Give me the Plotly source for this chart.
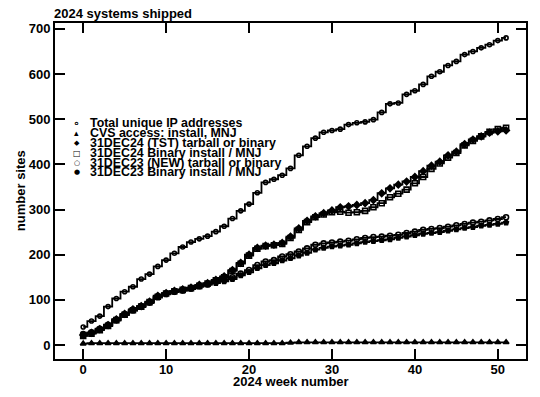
import plotly.graph_objects as go

weeks = list(range(52))

total_ip = [40, 53, 64, 85, 103, 118, 129, 146, 157, 174,
            188, 203, 217, 228, 235, 241, 251, 263, 280, 297,
            312, 337, 360, 367, 376, 391, 420, 440, 458, 471,
            475, 478, 488, 492, 494, 499, 515, 534, 536, 555,
            563, 577, 595, 605, 619, 628, 643, 650, 658, 665,
            674, 680]

cvs_access = [3, 4, 4, 4, 4, 4, 4, 4, 4, 4,
              4, 4, 4, 4, 4, 4, 4, 4, 4, 4,
              4, 4, 4, 4, 4, 5, 6, 6, 6, 6,
              6, 6, 6, 6, 6, 6, 6, 6, 6, 6,
              6, 6, 6, 6, 6, 6, 6, 6, 6, 6,
              6, 6]

tst24 = [22, 27, 35, 44, 57, 69, 79, 86, 96, 109,
         115, 120, 123, 127, 133, 137, 144, 152, 166, 182,
         200, 215, 220, 222, 226, 240, 258, 275, 285, 292,
         298, 305, 307, 310, 314, 321, 336, 347, 355, 362,
         372, 385, 397, 406, 420, 428, 445, 455, 462, 470,
         473, 475]

bin24 = [20, 25, 33, 42, 55, 67, 77, 85, 95, 107,
         114, 119, 122, 126, 131, 136, 143, 150, 164, 180,
         198, 213, 219, 221, 224, 237, 255, 272, 283, 289,
         294, 295, 293, 294, 297, 305, 314, 327, 335, 344,
         358, 372, 390, 402, 415, 425, 442, 452, 462, 472,
         478, 481]

new23 = [24, 28, 36, 45, 56, 68, 78, 86, 95, 107,
         114, 119, 122, 126, 131, 135, 140, 144, 150, 158,
         166, 177, 185, 188, 196, 201, 207, 214, 222, 225,
         227, 229, 231, 234, 237, 239, 240, 242, 244, 248,
         251, 255, 257, 259, 262, 265, 268, 271, 273, 276,
         279, 283]

bin23 = [21, 26, 34, 43, 54, 66, 76, 84, 93, 105,
         112, 117, 120, 124, 129, 133, 137, 141, 146, 154,
         161, 170, 177, 181, 187, 192, 198, 204, 211, 215,
         218, 220, 222, 225, 228, 230, 232, 234, 237, 240,
         243, 246, 248, 250, 253, 256, 259, 261, 264, 266,
         268, 271]

x_ticks = [0, 10, 20, 30, 40, 50]
y_ticks = [0, 100, 200, 300, 400, 500, 600, 700]

names = ["Total unique IP addresses",
         "CVS access: install, MNJ",
         "31DEC24 (TST) tarball or binary",
         "31DEC24 Binary install / MNJ",
         "31DEC23 (NEW) tarball or binary",
         "31DEC23 Binary install / MNJ"]
series = [total_ip, cvs_access, tst24, bin24, new23, bin23]
symbols = ["circle-open", "triangle-up", "diamond", "square-open", "circle-open", "pentagon"]
glyphs = ["∘", "▴", "◆", "□", "○", "●"]
gsizes = [11, 9, 7, 8, 7, 7]
msizes = [4, 5, 5, 5, 5, 5]

FONT = "Liberation Sans"
fig = go.Figure()
for nm, ys, sym, ms in zip(names, series, symbols, msizes):
    fig.add_trace(go.Scatter(
        x=weeks, y=ys, name=nm, mode="lines+markers",
        line=dict(color="black", width=1.8, shape="hvh"),
        marker=dict(symbol=sym, size=ms, color="black",
                    line=dict(color="black", width=1.6)),
        showlegend=False))

ax_common = dict(showline=True, linewidth=2, linecolor="black", mirror="ticks",
                 ticks="inside", ticklen=10, tickwidth=2, tickcolor="black",
                 showgrid=False, zeroline=False,
                 tickfont=dict(family=FONT, size=13, color="black", weight="bold"))

fig.update_layout(
    width=540, height=397,
    margin=dict(l=55, r=12, t=23, b=38),
    paper_bgcolor="white", plot_bgcolor="white",
    font=dict(family=FONT, size=13, color="black", weight="bold"),
    xaxis=dict(range=[-3.4, 53.4], tickvals=x_ticks, ticklabelstandoff=-3, **ax_common),
    yaxis=dict(range=[-31, 713], tickvals=y_ticks, **ax_common),
)

ann = []
ann.append(dict(text="2024 systems shipped", xref="paper", yref="paper", x=-0.006, y=1.027,
                xanchor="left", yanchor="middle", showarrow=False,
                font=dict(family=FONT, size=13, weight="bold")))
ann.append(dict(text="2024 week number", xref="paper", yref="paper", x=0.5, y=-0.068,
                xanchor="center", yanchor="middle", showarrow=False,
                font=dict(family=FONT, size=13, weight="bold")))
ann.append(dict(text="number sites", xref="paper", yref="paper", x=-0.074, y=0.5,
                xanchor="center", yanchor="middle", textangle=-90, showarrow=False,
                font=dict(family=FONT, size=13, weight="bold")))
leg_y = [0.702, 0.673, 0.643, 0.613, 0.583, 0.557]
for nm, g, gs, yy in zip(names, glyphs, gsizes, leg_y):
    ann.append(dict(text=g, xref="paper", yref="paper", x=0.0465, y=yy,
                    xanchor="center", yanchor="middle", showarrow=False,
                    font=dict(family="DejaVu Sans", size=gs, color="black")))
    ann.append(dict(text=nm, xref="paper", yref="paper", x=0.0698, y=yy,
                    xanchor="left", yanchor="middle", showarrow=False,
                    font=dict(family=FONT, size=12.4, weight="bold")))
fig.update_layout(annotations=ann)

fig.write_html("out.html", config={"displayModeBar": False},
               post_script="document.body.style.margin='0';")
